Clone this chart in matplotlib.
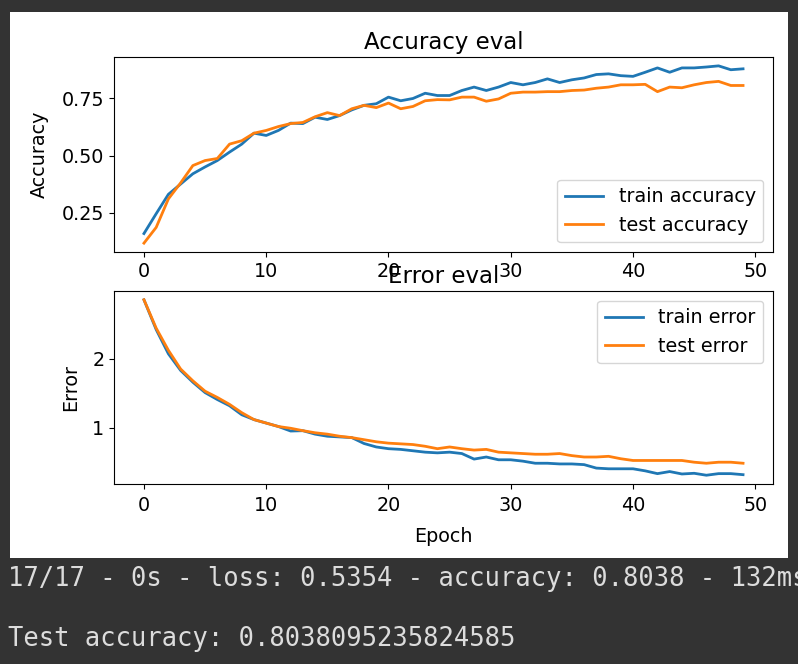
import numpy as np
import matplotlib
matplotlib.use("Agg")
import matplotlib.pyplot as plt

epochs = np.arange(50)

train_acc = [0.158, 0.245, 0.33, 0.375, 0.42, 0.45, 0.478, 0.515, 0.55, 0.598,
             0.588, 0.61, 0.642, 0.64, 0.668, 0.658, 0.675, 0.70, 0.72, 0.727,
             0.756, 0.74, 0.75, 0.773, 0.763, 0.763, 0.785, 0.80, 0.785, 0.80,
             0.82, 0.81, 0.82, 0.836, 0.82, 0.832, 0.84, 0.855, 0.858, 0.85,
             0.847, 0.865, 0.884, 0.865, 0.884, 0.884, 0.888, 0.893, 0.876, 0.88]
test_acc = [0.116, 0.185, 0.31, 0.38, 0.456, 0.478, 0.487, 0.55, 0.565, 0.598,
            0.61, 0.627, 0.64, 0.645, 0.67, 0.688, 0.675, 0.705, 0.72, 0.71,
            0.73, 0.705, 0.715, 0.74, 0.745, 0.744, 0.756, 0.756, 0.738, 0.748,
            0.773, 0.778, 0.778, 0.78, 0.78, 0.785, 0.787, 0.795, 0.80, 0.81,
            0.81, 0.812, 0.78, 0.80, 0.797, 0.81, 0.82, 0.825, 0.807, 0.807]

train_err = [2.85, 2.42, 2.07, 1.83, 1.66, 1.51, 1.41, 1.32, 1.19, 1.12,
             1.07, 1.02, 0.955, 0.96, 0.91, 0.88, 0.87, 0.86, 0.775, 0.725,
             0.70, 0.69, 0.67, 0.65, 0.64, 0.65, 0.63, 0.55, 0.58, 0.54,
             0.54, 0.52, 0.49, 0.49, 0.48, 0.48, 0.47, 0.42, 0.41, 0.41,
             0.41, 0.38, 0.34, 0.37, 0.335, 0.345, 0.317, 0.34, 0.34, 0.325]
test_err = [2.85, 2.44, 2.12, 1.85, 1.68, 1.53, 1.44, 1.34, 1.22, 1.12,
            1.07, 1.02, 0.995, 0.96, 0.93, 0.91, 0.88, 0.86, 0.83, 0.80,
            0.78, 0.77, 0.76, 0.735, 0.70, 0.725, 0.70, 0.68, 0.69, 0.65,
            0.64, 0.63, 0.62, 0.62, 0.63, 0.60, 0.58, 0.58, 0.59, 0.555,
            0.53, 0.53, 0.53, 0.53, 0.53, 0.505, 0.49, 0.505, 0.505, 0.49]

console_lines = ["17/17 - 0s - loss: 0.5354 - accuracy: 0.8038 - 132ms",
                 "Test accuracy: 0.8038095235824585"]

W, H = 798, 664
fig = plt.figure(figsize=(W / 100, H / 100), dpi=100)
fig.patch.set_facecolor("#333333")

# white notebook output panel, behind the axes
panel = plt.Rectangle((10 / W, 1 - 558 / H), 778 / W, 546 / H,
                      transform=fig.transFigure, facecolor="white",
                      edgecolor="none", zorder=-10)
fig.patches.append(panel)

def px_axes(left, top, right, bottom):
    return fig.add_axes([left / W, 1 - bottom / H, (right - left) / W, (bottom - top) / H])

fs = 13.75
tfs = 16.5

ax1 = px_axes(114, 57, 773, 252)
ax1.plot(epochs, train_acc, lw=2, label="train accuracy")
ax1.plot(epochs, test_acc, lw=2, label="test accuracy")
ax1.set_ylabel("Accuracy", fontsize=fs, labelpad=9)
ax1.set_title("Accuracy eval", fontsize=tfs)
ax1.legend(loc="lower right", fontsize=fs)
ax1.set_yticks([0.25, 0.5, 0.75])
ax1.tick_params(labelsize=fs)

ax2 = px_axes(114, 291, 773, 484)
ax2.plot(epochs, train_err, lw=2, label="train error")
ax2.plot(epochs, test_err, lw=2, label="test error")
ax2.set_ylabel("Error", fontsize=fs, labelpad=9)
ax2.set_xlabel("Epoch", fontsize=fs, labelpad=9)
ax2.set_title("Error eval", fontsize=tfs)
ax2.legend(loc="upper right", fontsize=fs)
ax2.set_yticks([1, 2])
ax2.tick_params(labelsize=fs)
ax2.tick_params(axis="x", pad=5)

for i, line in enumerate(console_lines):
    fig.text(8 / W, 1 - (586 + 60 * i) / H, line, color="#dcdcdc",
             family="DejaVu Sans Mono", fontsize=18.4, va="baseline")

fig.savefig("out.png", dpi=100, facecolor=fig.get_facecolor())
